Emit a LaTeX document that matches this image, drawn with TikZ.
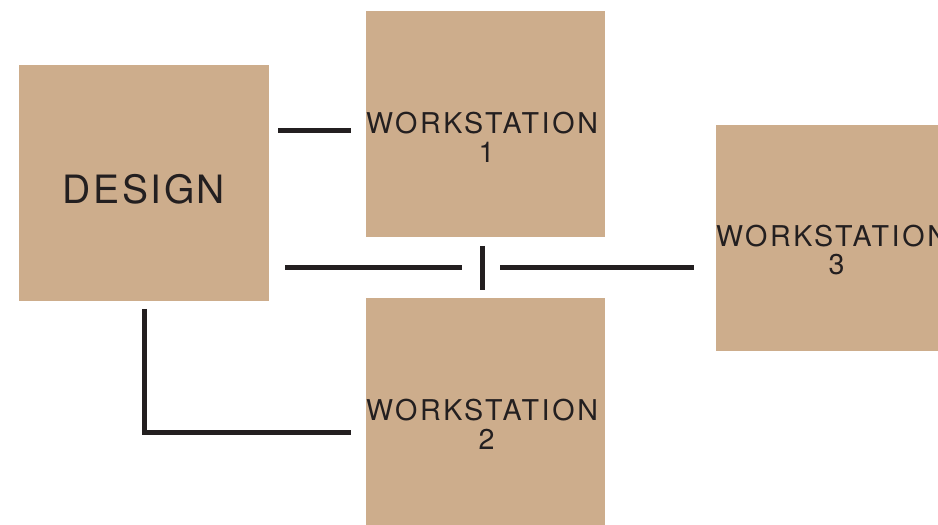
\documentclass[tikz,border=0pt]{standalone}
\usepackage{fontspec}
\usepackage{xcolor}
\usepackage{tikz}
\usetikzlibrary{calc}
\newfontfamily\stationfont[LetterSpace=9.3]{TeX Gyre Heros}
\newfontfamily\designfont[LetterSpace=6.5]{TeX Gyre Heros}
\definecolor{boxtan}{HTML}{CDAD8C}
\definecolor{ink}{HTML}{231F20}
\tikzset{
    station/.style={draw=none, fill=boxtan, inner sep=0pt, minimum width=47.8mm, minimum height=45.2mm},
    wsname/.style={align=center, text=ink, inner sep=0pt, font=\stationfont\fontsize{16.3}{16.2}\selectfont},
    link/.style={draw=ink, line width=1mm}}

\begin{document}
\begin{tikzpicture}[x=0.2mm,y=-0.2mm]
\path[use as bounding box, clip] (0,0) rectangle (938,525);
% boxes
\node[station, minimum width=50mm, minimum height=47.2mm] (design) at (144,183) {};
\node[station] (ws1) at (485.5,124) {};
\node[station, minimum height=45.4mm] (ws2) at (485.5,411.5) {};
\node[station] (ws3) at (835.5,238) {};
% names
\node[wsname, font=\designfont\fontsize{22.2}{24}\selectfont] (designname) at ($(design.center)+(0,6)$) {DESIGN};
\node[wsname] (ws1name) at ($(ws1.center)+(-3.5,13.5)$) {WORKSTATION\\\hspace*{1.8mm}1};
\node[wsname] (ws2name) at ($(ws2.center)+(-3.5,13)$) {WORKSTATION\\\hspace*{1.8mm}2};
\node[wsname] (ws3name) at ($(ws3.center)+(-3.5,12)$) {WORKSTATION\\\hspace*{1.8mm}3};
% links
\coordinate (l1a) at (278,130.5);
\coordinate (l1b) at (351,130.5);
\draw[link] (l1a) -- (l1b);
\coordinate (l2a) at (285,268);
\coordinate (l2b) at (462,268);
\coordinate (l3a) at (500,268);
\coordinate (l3b) at (694,268);
\coordinate (t1) at (482,246);
\coordinate (t2) at (482,290);
\draw[link] (l2a) -- (l2b);
\draw[link] (l3a) -- (l3b);
\draw[link] (t1) -- (t2);
\coordinate (l4a) at (144,309);
\coordinate (l4b) at (351,432);
\draw[link] (l4a) |- (l4b);
\end{tikzpicture}
\end{document}
